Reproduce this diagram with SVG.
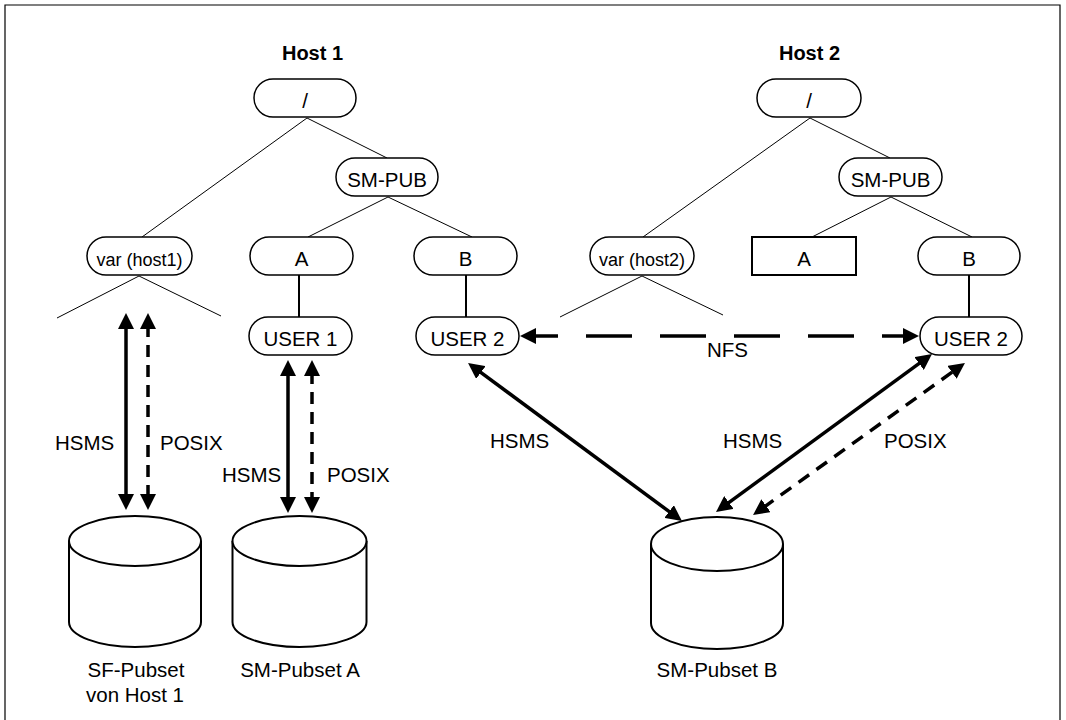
<svg xmlns="http://www.w3.org/2000/svg" width="1066" height="720" viewBox="0 0 1066 720">
<style>
.pill{fill:#fff;stroke:#000;stroke-width:1.5}
.box{fill:#fff;stroke:#000;stroke-width:2}
.t{font-family:"Liberation Sans",Arial,sans-serif;font-size:20.5px;fill:#000;text-anchor:middle}
.tv{font-family:"Liberation Sans",Arial,sans-serif;font-size:18px;fill:#000;text-anchor:middle}
.ts{font-family:"Liberation Sans",Arial,sans-serif;font-size:20.5px;fill:#000}
.th{font-family:"Liberation Sans",Arial,sans-serif;font-size:20px;font-weight:bold;fill:#000;text-anchor:middle}
.tree{stroke:#000;stroke-width:1;fill:none}
.stem{stroke:#000;stroke-width:2;fill:none}
.cyl{fill:#fff;stroke:#000;stroke-width:2}
.arr{stroke:#000;stroke-width:3.5;fill:none;marker-start:url(#ah);marker-end:url(#ah)}
.dash{stroke-dasharray:12 8}
.dashd{stroke-dasharray:13 9}
.nfs{stroke-dasharray:46 28;stroke-dashoffset:20}
</style>
<defs>
<marker id="ah" viewBox="0 0 16 16" refX="4" refY="8" markerWidth="16" markerHeight="16" markerUnits="userSpaceOnUse" orient="auto-start-reverse">
<path d="M0,0 L16,8 L0,16 z" fill="#000"/>
</marker>
</defs>
<rect width="1066" height="720" fill="#fff"/>
<path d="M5,724 V5 H1060 V724" fill="none" stroke="#000" stroke-width="1.2"/>

<g id="titles">
<text class="th" x="312.5" y="60">Host 1</text>
<text class="th" x="809.5" y="60">Host 2</text>
</g>

<g id="tree-lines">
<line class="tree" x1="307" y1="118" x2="142" y2="237"/>
<line class="tree" x1="307" y1="118" x2="387" y2="158"/>
<line class="tree" x1="388" y1="197" x2="308" y2="237"/>
<line class="tree" x1="388" y1="197" x2="472" y2="237"/>
<line class="tree" x1="139" y1="276" x2="57" y2="318"/>
<line class="tree" x1="139" y1="276" x2="221" y2="316"/>
<line class="stem" x1="299" y1="275" x2="299" y2="317"/>
<line class="stem" x1="466" y1="275" x2="466" y2="317"/>
<line class="tree" x1="810" y1="118" x2="643" y2="237"/>
<line class="tree" x1="810" y1="118" x2="890" y2="158"/>
<line class="tree" x1="891" y1="197" x2="812" y2="237"/>
<line class="tree" x1="891" y1="197" x2="972" y2="237"/>
<line class="tree" x1="642" y1="276" x2="560" y2="317"/>
<line class="tree" x1="642" y1="276" x2="723" y2="315"/>
<line class="stem" x1="969" y1="275" x2="969" y2="317"/>
</g>

<g id="h1-root"><rect class="pill" x="254" y="79" width="102" height="38" rx="19"/><text class="t" x="305" y="108">/</text></g>
<g id="h1-smpub"><rect class="pill" x="336" y="158" width="102" height="38" rx="19"/><text class="t" x="387" y="187">SM-PUB</text></g>
<g id="h1-var"><rect class="pill" x="87" y="237" width="105" height="38" rx="19"/><text class="tv" x="139.5" y="266">var (host1)</text></g>
<g id="h1-a"><rect class="pill" x="250" y="237" width="103" height="38" rx="19"/><text class="t" x="301.5" y="266">A</text></g>
<g id="h1-b"><rect class="pill" x="414" y="237" width="103" height="38" rx="19"/><text class="t" x="465.5" y="266">B</text></g>
<g id="h1-user1"><rect class="pill" x="249" y="317" width="103" height="38" rx="19"/><text class="t" x="300.5" y="346">USER 1</text></g>
<g id="h1-user2"><rect class="pill" x="416" y="317" width="103" height="38" rx="19"/><text class="t" x="467.5" y="346">USER 2</text></g>

<g id="h2-root"><rect class="pill" x="757" y="79" width="104" height="38" rx="19"/><text class="t" x="809" y="108">/</text></g>
<g id="h2-smpub"><rect class="pill" x="839" y="158" width="103" height="38" rx="19"/><text class="t" x="890.5" y="187">SM-PUB</text></g>
<g id="h2-var"><rect class="pill" x="590" y="237" width="104" height="38" rx="19"/><text class="tv" x="642" y="266">var (host2)</text></g>
<g id="h2-a"><rect class="box" x="752" y="237" width="104" height="38"/><text class="t" x="804" y="266">A</text></g>
<g id="h2-b"><rect class="pill" x="918" y="237" width="102" height="38" rx="19"/><text class="t" x="969" y="266">B</text></g>
<g id="h2-user2"><rect class="pill" x="920" y="317" width="102" height="38" rx="19"/><text class="t" x="971" y="346">USER 2</text></g>

<g id="cyl-sf">
<path class="cyl" d="M69,541 V622 A66,25 0 0 0 201,622 V541"/>
<ellipse class="cyl" cx="135" cy="541" rx="66" ry="25"/>
<text class="t" x="136" y="677">SF-Pubset</text>
<text class="t" x="135" y="702">von Host 1</text>
</g>
<g id="cyl-a">
<path class="cyl" d="M232.5,541 V622 A67,25 0 0 0 366.5,622 V541"/>
<ellipse class="cyl" cx="299.5" cy="541" rx="67" ry="25"/>
<text class="t" x="300" y="677">SM-Pubset A</text>
</g>
<g id="cyl-b">
<path class="cyl" d="M651,544 V623 A66,26 0 0 0 783,623 V544"/>
<ellipse class="cyl" cx="717" cy="544" rx="66" ry="27"/>
<text class="t" x="717" y="677">SM-Pubset B</text>
</g>

<g id="connectors">
<line class="arr" x1="126" y1="325" x2="126" y2="498"/>
<line class="arr dash" x1="148" y1="325" x2="148" y2="498"/>
<line class="arr" x1="288" y1="372" x2="288" y2="501"/>
<line class="arr dash" x1="312" y1="372" x2="312" y2="501"/>
<line class="arr nfs" x1="532" y1="336" x2="907" y2="336"/>
<line class="arr" x1="477.7" y1="370.1" x2="672.3" y2="513.9"/>
<line class="arr" x1="725.7" y1="504.9" x2="922.3" y2="361.1"/>
<line class="arr dashd" x1="762.8" y1="508" x2="955.2" y2="370"/>
</g>

<g id="labels">
<text class="ts" x="55" y="450">HSMS</text>
<text class="ts" x="160" y="450">POSIX</text>
<text class="ts" x="222" y="482">HSMS</text>
<text class="ts" x="327" y="482">POSIX</text>
<text class="ts" x="490" y="448">HSMS</text>
<text class="ts" x="707" y="357">NFS</text>
<text class="ts" x="723" y="448">HSMS</text>
<text class="ts" x="884" y="448">POSIX</text>
</g>
</svg>
